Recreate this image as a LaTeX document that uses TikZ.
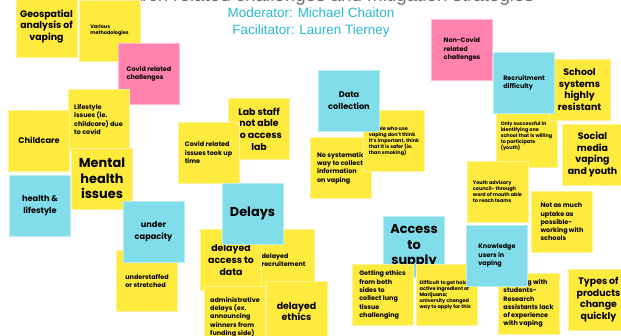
\documentclass[tikz,border=0pt]{standalone}
\usepackage{fontspec}
\setmainfont{Poppins}
\newfontfamily\headfont{Liberation Sans}
\usetikzlibrary{positioning}
\definecolor{noteyellow}{HTML}{FFEA3E}
\definecolor{notecyan}{HTML}{80DDE9}
\definecolor{notepink}{HTML}{FF82AC}
\definecolor{headcyan}{HTML}{2DB8D2}
\definecolor{headgrey}{HTML}{707070}

\begin{document}
\begin{tikzpicture}[
  x=0.03cm, y=-0.03cm,
  every node/.style={font=\bfseries},
  sticky/.style={rectangle, fill=#1, draw=#1!55, line width=0.4pt,
    minimum width=1.83cm, minimum height=1.83cm, inner sep=0pt, align=left},
  hugetxt/.style={font=\bfseries\fontsize{11}{13.3}\selectfont, align=center},
  bigtxt/.style={font=\bfseries\fontsize{8}{10}\selectfont, align=center},
  midtxt/.style={font=\bfseries\fontsize{7}{10}\selectfont, align=center},
  smalltxt/.style={font=\bfseries\fontsize{5.5}{7.1}\selectfont},
  tinytxt/.style={font=\bfseries\fontsize{4.2}{5.1}\selectfont},
]
\clip (0,0) rectangle (621,335);

% heading, mostly hidden under the notes and the top edge
\node[font=\headfont\fontsize{16}{18}\selectfont, text=headgrey, anchor=base] (title) at (311,1.5)
  {Research related challenges and mitigation strategies};
\node[font=\headfont\fontsize{11.5}{14}\selectfont, text=headcyan] (moderator) at (311,13) {Moderator: Michael Chaiton};
\node[font=\headfont\fontsize{11.5}{14}\selectfont, text=headcyan] (facilitator) at (311,31) {Facilitator: Lauren Tierney};

% left cluster
\node[sticky=noteyellow, bigtxt] (geo) at (46.5,26.5) {Geospatial\\analysis of\\vaping};
\node[sticky=noteyellow, tinytxt] (various) at (109.5,30.5) {Various\\methodologies};
\node[sticky=notepink, smalltxt] (covidch) at (149,73.5) {Covid related\\challenges};
\node[sticky=noteyellow, smalltxt] (lifestyle) at (98.5,119.5) {Lifestyle\\issues (ie.\\childcare) due\\to covid};
\node[sticky=noteyellow, midtxt] (childcare) at (39,140.5) {Childcare};
\node[sticky=noteyellow, hugetxt] (mental) at (102,178.5) {Mental\\health\\issues};
\node[sticky=notecyan, midtxt] (healthls) at (40,205.5) {health \&\\lifestyle};

% lab access
\node[sticky=noteyellow, bigtxt] (labstaff) at (259,129) {Lab staff\\not able\\to access\\lab};
\node[sticky=noteyellow, smalltxt] (covidiss) at (208.5,152.5) {Covid related\\issues took up\\time};

% data collection
\node[sticky=noteyellow, smalltxt] (nosys) at (341,168) {No systematic\\way to collect\\information\\on vaping};
\node[sticky=noteyellow, tinytxt] (people) at (394,141) {People who use\\vaping don't think\\it's important, think\\that it is safer (ie.\\than smoking)};
\node[sticky=notecyan, midtxt] (datacoll) at (349,101) {Data\\collection};

% delays
\node[sticky=noteyellow, smalltxt] (delrecruit) at (283.5,260) {delayed\\recruitement};
\node[sticky=noteyellow, bigtxt] (delaccess) at (231,260) {delayed\\access to\\data};
\node[sticky=notecyan, hugetxt] (delays) at (252.5,213.5) {Delays};
\node[sticky=noteyellow, bigtxt] (delethics) at (296.5,311.5) {delayed\\ethics};
\node[sticky=noteyellow, smalltxt] (admin) at (235,317) {administrative\\delays (ex.\\announcing\\winners from\\funding side)};

% capacity
\node[sticky=noteyellow, smalltxt] (understaff) at (147,281) {understaffed\\or stretched};
\node[sticky=notecyan, midtxt] (undercap) at (153.5,231.5) {under\\capacity};

% supply and knowledge users
\node[sticky=notecyan, hugetxt] (access) at (414,246.5) {Access\\to\\supply};
\node[sticky=noteyellow, smalltxt] (getting) at (382.5,295) {Getting ethics\\from both\\sides to\\collect lung\\tissue\\challenging};
\node[sticky=noteyellow, tinytxt] (difficult) at (446.5,295) {Difficult to get hold of\\active ingredient of\\Marijuana;\\university changed\\way to apply for this};
\node[sticky=noteyellow, smalltxt] (working) at (528.5,303.5) {Working with\\students-\\Research\\assistants lack\\of experience\\with vaping};
\node[sticky=notecyan, smalltxt] (knowledge) at (497,255.5) {Knowledge\\users in\\vaping};
\node[sticky=noteyellow, bigtxt] (types) at (598.5,299.5) {Types of\\products\\change\\quickly};

% recruitment
\node[sticky=noteyellow, tinytxt] (onlysucc) at (526.5,136.5) {Only successful in\\identifying one\\school that is willing\\to participate\\(youth)};
\node[sticky=noteyellow, tinytxt] (youth) at (497.5,191.5) {Youth advisory\\council- through\\word of mouth able\\to reach teams};
\node[sticky=noteyellow, smalltxt] (notasmuch) at (562,222) {Not as much\\uptake as\\possible-\\working with\\schools};
\node[sticky=notepink, smalltxt] (noncovid) at (462,49.5) {Non-Covid\\related\\challenges};
\node[sticky=noteyellow, bigtxt] (school) at (579.5,89.5) {School\\systems\\highly\\resistant};
\node[sticky=notecyan, smalltxt] (recruit) at (524,83) {Recruitment\\difficulty};
\node[sticky=noteyellow, bigtxt] (social) at (592.5,154.5) {Social\\media\\vaping\\and youth};

\end{tikzpicture}
\end{document}
